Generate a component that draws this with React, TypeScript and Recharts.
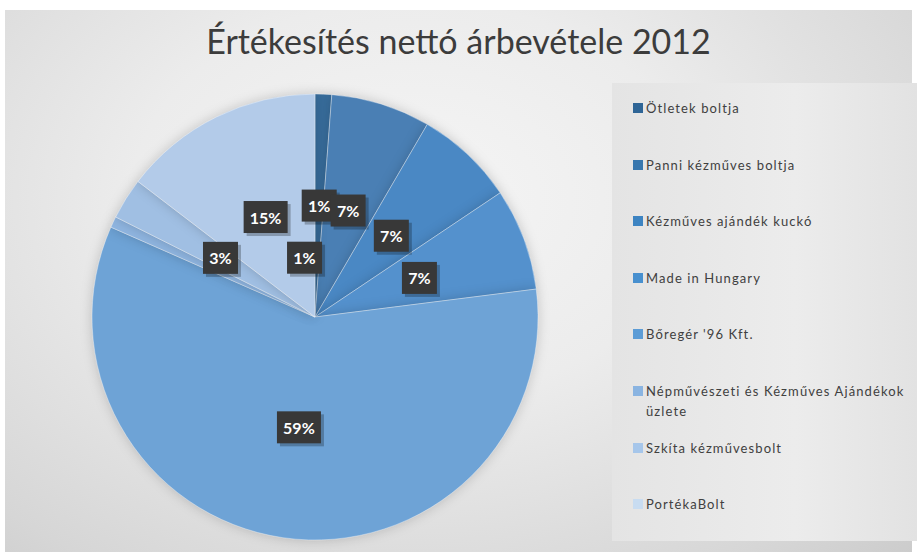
import { Cell, Legend, Pie, PieChart } from 'recharts';

const shops = [
  'Ötletek boltja',
  'Panni kézműves boltja',
  'Kézműves ajándék kuckó',
  'Made in Hungary',
  "Bőregér '96 Kft.",
  'Népművészeti és Kézműves Ajándékok üzlete',
  'Szkíta kézművesbolt',
  'PortékaBolt',
];
const shares = [1.2, 7.2, 7.2, 7.4, 58.6, 0.8, 3.0, 14.6];
const sliceColors = ['#386d9c', '#4a7fb4', '#4a88c4', '#5491cd', '#6ea3d6', '#8fb5e0', '#a0bfe3', '#b3cbe9'];
const legendColors = ['#2f6596', '#3877ae', '#3d84c2', '#4890cf', '#5c9cd6', '#8ab4e1', '#a6c6ea', '#c8dcf1'];

const data = shops.map((name, i) => ({ name, value: shares[i] }));

const RADIAN = Math.PI / 180;
// Excel "best fit" pushed the tiny slice's label inward
const labelNudge: Record<number, { r: number; angle: number }> = { 5: { r: 0.27, angle: 100 } };

const renderLabel = (props: any) => {
  const { cx, cy, midAngle, outerRadius, percent, index } = props;
  const nudge = labelNudge[index];
  const r = nudge ? outerRadius * nudge.r : outerRadius * 0.5;
  const a = nudge ? nudge.angle : midAngle;
  const x = cx + r * Math.cos(-a * RADIAN);
  const y = cy + r * Math.sin(-a * RADIAN);
  const text = `${Math.round(percent * 100)}%`;
  const w = text.length > 2 ? 44 : 35;
  const h = 32;
  return (
    <g>
      <rect x={x - w / 2 + 3} y={y - h / 2 + 3} width={w} height={h} fill="#000" opacity={0.25} />
      <rect x={x - w / 2} y={y - h / 2} width={w} height={h} fill="#383838" />
      <text
        x={x}
        y={y}
        fill="#ffffff"
        textAnchor="middle"
        dominantBaseline="central"
        fontFamily="Lato, sans-serif"
        fontWeight="bold"
        fontSize={16}
      >
        {text}
      </text>
    </g>
  );
};

const LegendBox = () => (
  <div
    style={{
      width: 305,
      height: 458,
      background: 'linear-gradient(90deg, #e4e4e4, #ececec 60%, #e2e2e2)',
      boxSizing: 'border-box',
      paddingLeft: 21,
      paddingTop: 17,
      fontFamily: 'Lato, sans-serif',
      fontSize: 13,
      letterSpacing: 1.1,
      color: '#404040',
    }}
  >
    {shops.map((name, i) => (
      <div key={name} style={{ display: 'flex', alignItems: 'flex-start', height: i === 5 ? 57 : 56.5 }}>
        <span
          style={{
            width: 10,
            height: 10,
            background: legendColors[i],
            marginTop: 3,
            marginRight: 3,
            flex: 'none',
          }}
        />
        <span style={{ lineHeight: '20px', marginTop: -2, width: 270 }}>{name}</span>
      </div>
    ))}
  </div>
);

const App = () => {
  return (
    <div style={{ width: 917, height: 558, position: 'relative', background: '#fff', overflow: 'hidden' }}>
      <style>{`body{margin:0} .recharts-pie-sector{filter: drop-shadow(0 0 6px rgba(0,0,0,0.18));}`}</style>
      <div
        style={{
          position: 'absolute',
          left: 5,
          top: 10,
          width: 907,
          height: 542,
          background: 'radial-gradient(ellipse at 45% 35%, #f5f5f5 0%, #ececec 40%, #d6d6d6 85%, #cccccc 100%)',
        }}
      />
      <div
        style={{
          position: 'absolute',
          left: 5,
          top: 20,
          width: 907,
          textAlign: 'center',
          fontFamily: 'Lato, sans-serif',
          fontSize: 34,
          color: '#3c3c3c',
        }}
      >
        Értékesítés nettó árbevétele 2012
      </div>
      <div style={{ position: 'absolute', left: 0, top: 0 }}>
        <PieChart width={917} height={558} margin={{ top: 0, right: 0, bottom: 0, left: 0 }}>
          <Pie
            data={data}
            dataKey="value"
            nameKey="name"
            cx={315}
            cy={317}
            outerRadius={223}
            startAngle={90}
            endAngle={-270}
            stroke="rgba(255,255,255,0.35)"
            strokeWidth={1}
            label={renderLabel}
            labelLine={false}
            isAnimationActive={false}
          >
            {data.map((d, i) => (
              <Cell key={d.name} fill={sliceColors[i]} />
            ))}
          </Pie>
          <Legend
            layout="vertical"
            align="right"
            verticalAlign="top"
            content={() => <LegendBox />}
            wrapperStyle={{ position: 'absolute', left: 612, top: 83, width: 305 }}
          />
        </PieChart>
      </div>
    </div>
  );
};

export default App;
